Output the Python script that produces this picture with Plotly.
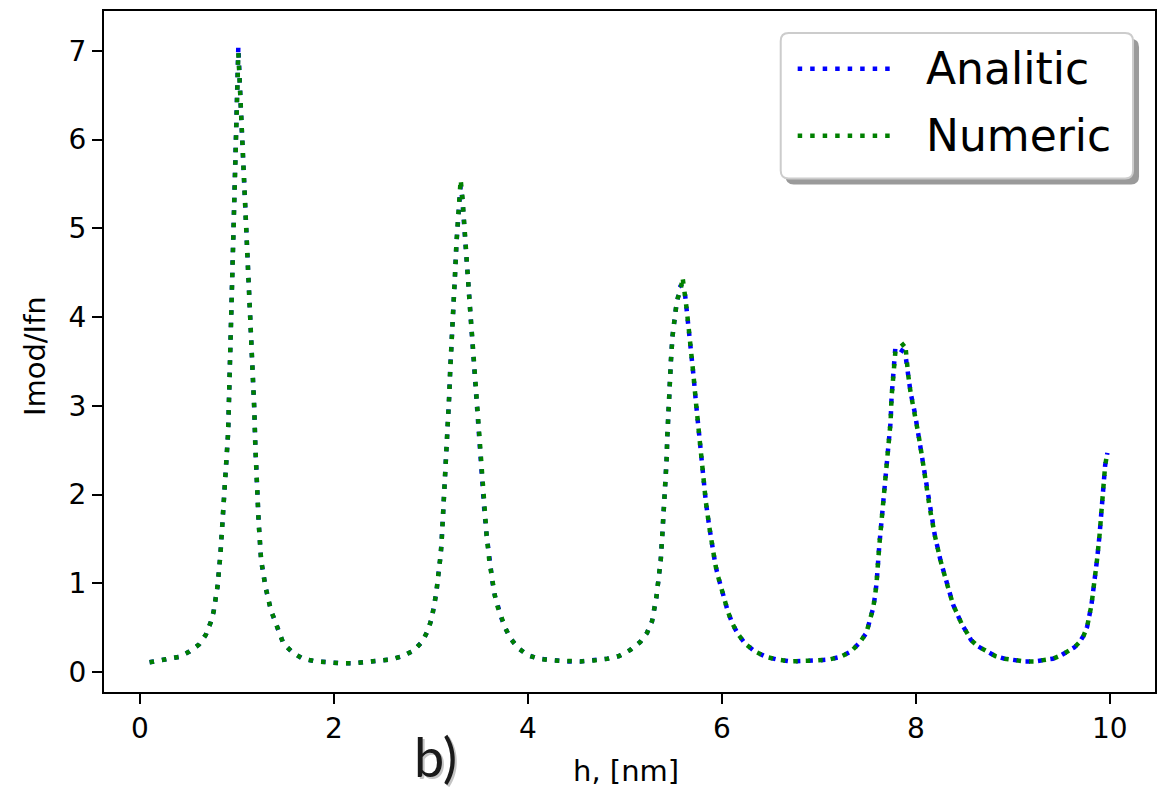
import plotly.graph_objects as go

# ---- data ----
h = [
    # peak 1
    0.10, 0.28, 0.40, 0.51, 0.61, 0.68, 0.73, 0.76, 0.80, 0.83,
    0.86, 0.89, 0.91, 0.93, 0.95, 0.97, 0.99, 1.015, 1.04, 1.06,
    1.08, 1.10, 1.12, 1.135, 1.15, 1.165, 1.18, 1.19, 1.205, 1.225,
    1.25, 1.295, 1.35, 1.40, 1.48, 1.575, 1.68, 1.815, 1.93, 2.07, 2.20,
    # peak 2
    2.33, 2.46, 2.58, 2.71, 2.82, 2.91, 2.97, 3.01, 3.036, 3.056,
    3.07, 3.09, 3.10, 3.11, 3.125, 3.14, 3.153, 3.163, 3.177, 3.19,
    3.20, 3.215, 3.228, 3.242, 3.252, 3.263, 3.277, 3.29, 3.307, 3.325,
    3.34, 3.356, 3.372, 3.389, 3.405, 3.427, 3.444, 3.462, 3.478, 3.496,
    3.509, 3.53, 3.55, 3.575, 3.602, 3.637, 3.66, 3.69, 3.73, 3.77,
    3.82, 3.90, 4.00, 4.11, 4.25, 4.39, 4.54,
    # peak 3
    4.68, 4.82, 4.94, 5.057, 5.16, 5.228, 5.28, 5.307, 5.325, 5.34,
    5.37, 5.386, 5.403, 5.417, 5.43, 5.438, 5.448, 5.462, 5.475, 5.492,
    5.506, 5.527, 5.547, 5.575, 5.595, 5.616, 5.63, 5.657, 5.688, 5.709,
    5.732, 5.757, 5.78, 5.808, 5.835, 5.87, 5.907, 5.935, 5.963, 5.99,
    6.02, 6.06, 6.107, 6.165, 6.24, 6.344, 6.46, 6.576, 6.71, 6.84, 6.97,
    # peak 4 and tail
    7.10, 7.22, 7.33, 7.42, 7.49, 7.527, 7.56, 7.58, 7.595, 7.623,
    7.646, 7.667, 7.70, 7.72, 7.74, 7.75, 7.766, 7.776, 7.79, 7.89,
    7.907, 7.92, 7.946, 7.99, 8.027, 8.065, 8.10, 8.145, 8.196, 8.254,
    8.32, 8.384, 8.47, 8.57, 8.64, 8.727, 8.82, 8.916, 9.02, 9.12,
    9.225, 9.33, 9.413, 9.50, 9.57, 9.637, 9.69, 9.73, 9.766, 9.79,
    9.81, 9.825, 9.843, 9.87, 9.894, 9.915, 9.935, 9.952, 9.975,
]

analitic = [
    0.11, 0.14, 0.17, 0.23, 0.31, 0.42, 0.56, 0.68, 0.96, 1.32,
    1.78, 2.22, 2.70, 3.55, 4.40, 5.20, 6.05, 7.05, 6.38, 5.90,
    5.48, 5.05, 4.62, 4.21, 3.79, 3.37, 2.95, 2.55, 2.10, 1.68,
    1.26, 0.96, 0.70, 0.55, 0.32, 0.22, 0.15, 0.12, 0.11, 0.10, 0.10,
    0.11, 0.12, 0.14, 0.18, 0.24, 0.34, 0.47, 0.61, 0.75, 0.89,
    1.03, 1.17, 1.31, 1.45, 1.73, 2.01, 2.29, 2.57, 2.85, 3.13,
    3.42, 3.70, 3.98, 4.26, 4.54, 4.82, 5.10, 5.36, 5.48, 5.32,
    5.08, 4.84, 4.60, 4.34, 4.08, 3.76, 3.50, 3.22, 2.96, 2.68,
    2.45, 2.12, 1.84, 1.54, 1.26, 1.00, 0.86, 0.73, 0.60, 0.49,
    0.38, 0.27, 0.19, 0.15, 0.13, 0.12, 0.12,
    0.13, 0.15, 0.18, 0.25, 0.34, 0.44, 0.57, 0.70, 0.84, 0.98,
    1.26, 1.54, 1.82, 2.10, 2.38, 2.66, 2.94, 3.22, 3.51, 3.79,
    3.95, 4.10, 4.22, 4.36, 4.33, 4.30, 4.16, 3.89, 3.61, 3.33,
    3.05, 2.76, 2.48, 2.20, 1.92, 1.64, 1.36, 1.20, 1.07, 0.95,
    0.82, 0.69, 0.55, 0.43, 0.32, 0.23, 0.17, 0.14, 0.12, 0.12, 0.13,
    0.14, 0.17, 0.23, 0.33, 0.44, 0.58, 0.72, 0.86, 1.00, 1.42,
    1.70, 1.98, 2.26, 2.54, 2.82, 3.10, 3.38, 3.52, 3.67, 3.60,
    3.47, 3.36, 3.15, 2.92, 2.68, 2.42, 2.14, 1.84, 1.54, 1.26,
    1.00, 0.76, 0.55, 0.36, 0.29, 0.23, 0.18, 0.15, 0.13, 0.12,
    0.12, 0.13, 0.15, 0.19, 0.23, 0.28, 0.34, 0.41, 0.51, 0.62,
    0.75, 0.88, 1.02, 1.28, 1.54, 1.80, 2.06, 2.33, 2.47,
]

numeric = [
    0.11, 0.14, 0.17, 0.23, 0.31, 0.42, 0.56, 0.68, 0.96, 1.32,
    1.78, 2.22, 2.70, 3.55, 4.40, 5.20, 6.05, 6.98, 6.38, 5.90,
    5.48, 5.05, 4.62, 4.21, 3.79, 3.37, 2.95, 2.55, 2.10, 1.68,
    1.26, 0.96, 0.70, 0.55, 0.32, 0.22, 0.15, 0.12, 0.11, 0.10, 0.10,
    0.11, 0.12, 0.14, 0.18, 0.24, 0.34, 0.47, 0.61, 0.75, 0.89,
    1.03, 1.17, 1.31, 1.45, 1.73, 2.01, 2.29, 2.57, 2.85, 3.13,
    3.42, 3.70, 3.98, 4.26, 4.54, 4.82, 5.10, 5.38, 5.55, 5.36,
    5.08, 4.84, 4.60, 4.34, 4.08, 3.76, 3.50, 3.22, 2.96, 2.68,
    2.45, 2.12, 1.84, 1.54, 1.26, 1.00, 0.86, 0.73, 0.60, 0.49,
    0.38, 0.27, 0.19, 0.15, 0.13, 0.12, 0.12,
    0.13, 0.15, 0.18, 0.25, 0.34, 0.44, 0.57, 0.70, 0.84, 0.98,
    1.26, 1.54, 1.82, 2.10, 2.38, 2.66, 2.94, 3.22, 3.51, 3.79,
    3.95, 4.10, 4.22, 4.30, 4.45, 4.30, 4.16, 3.89, 3.61, 3.33,
    3.05, 2.76, 2.48, 2.20, 1.92, 1.64, 1.36, 1.20, 1.07, 0.95,
    0.82, 0.69, 0.55, 0.43, 0.32, 0.23, 0.17, 0.14, 0.12, 0.12, 0.13,
    0.14, 0.17, 0.23, 0.33, 0.44, 0.58, 0.72, 0.86, 1.00, 1.42,
    1.70, 1.98, 2.26, 2.54, 2.82, 3.10, 3.38, 3.52, 3.62, 3.71,
    3.47, 3.36, 3.15, 2.92, 2.68, 2.42, 2.14, 1.84, 1.54, 1.26,
    1.00, 0.76, 0.55, 0.36, 0.29, 0.23, 0.18, 0.15, 0.13, 0.12,
    0.12, 0.13, 0.15, 0.19, 0.23, 0.28, 0.34, 0.41, 0.51, 0.62,
    0.75, 0.88, 1.02, 1.28, 1.54, 1.80, 2.06, 2.33, 2.47,
]

series_names = ["Analitic", "Numeric"]
series_colors = ["#0000ff", "#008000"]
x_ticks = [0, 2, 4, 6, 8, 10]
y_ticks = [0, 1, 2, 3, 4, 5, 6, 7]

assert len(h) == len(analitic) == len(numeric)

W, H = 1166, 795
ML, MR, MT, MB = 104, 9, 9, 103
PW, PH = W - ML - MR, H - MT - MB

def fx(px):
    return (px - ML) / PW

def fy(py):
    return (H - MB - py) / PH

DASH = "4.5px,8px"

fig = go.Figure()
for name, ys, col in zip(series_names, [analitic, numeric], series_colors):
    fig.add_trace(go.Scatter(x=h, y=ys, mode="lines", name=name,
                             line=dict(color=col, width=4.5, dash=DASH),
                             showlegend=False, hoverinfo="x+y"))

shapes = []
annotations = []

def rrect(x0, y0, x1, y1, r):
    X0, X1 = fx(x0), fx(x1)
    Y0, Y1 = fy(y0), fy(y1)
    rx, ry = r / PW, r / PH
    return (f"M {X0+rx},{Y0} L {X1-rx},{Y0} Q {X1},{Y0} {X1},{Y0-ry} "
            f"L {X1},{Y1+ry} Q {X1},{Y1} {X1-rx},{Y1} L {X0+rx},{Y1} "
            f"Q {X0},{Y1} {X0},{Y1+ry} L {X0},{Y0-ry} Q {X0},{Y0} {X0+rx},{Y0} Z")

# legend shadow and box
shapes.append(dict(type="path", xref="paper", yref="paper",
                   path=rrect(787, 37, 1141, 183, 8),
                   fillcolor="#9a9a9a", line=dict(width=0), layer="above"))
shapes.append(dict(type="path", xref="paper", yref="paper",
                   path=rrect(782, 31, 1135, 177, 8),
                   fillcolor="white", line=dict(color="#cccccc", width=2), layer="above"))

leg_rows = [67, 134]
for name, col, yy in zip(series_names, series_colors, leg_rows):
    shapes.append(dict(type="line", xref="paper", yref="paper",
                       x0=fx(799), x1=fx(892), y0=fy(yy), y1=fy(yy),
                       line=dict(color=col, width=4.5, dash=DASH), layer="above"))
    annotations.append(dict(text=name, xref="paper", yref="paper",
                            x=fx(926), y=fy(yy), xanchor="left", yanchor="middle",
                            showarrow=False,
                            font=dict(family="DejaVu Sans", size=44, color="black")))

# axis titles
annotations.append(dict(text="h, [nm]", xref="paper", yref="paper",
                        x=fx(627), y=fy(771), xanchor="center", yanchor="middle",
                        showarrow=False,
                        font=dict(family="DejaVu Sans", size=29, color="black")))
annotations.append(dict(text="Imod/Ifn", xref="paper", yref="paper",
                        x=fx(35), y=fy(355), xanchor="center", yanchor="middle",
                        textangle=-90, showarrow=False,
                        font=dict(family="DejaVu Sans", size=29, color="black")))
# panel label with soft shadow
annotations.append(dict(text="b)", xref="paper", yref="paper",
                        x=fx(438), y=fy(759), xanchor="center", yanchor="middle",
                        showarrow=False,
                        font=dict(family="Lato", size=54, color="#c4c4c4")))
annotations.append(dict(text="b)", xref="paper", yref="paper",
                        x=fx(436), y=fy(757), xanchor="center", yanchor="middle",
                        showarrow=False,
                        font=dict(family="Lato", size=54, color="#1a1a1a")))

fig.update_layout(
    width=W, height=H,
    margin=dict(l=ML, r=MR, t=MT, b=MB, pad=0),
    paper_bgcolor="white", plot_bgcolor="white",
    shapes=shapes, annotations=annotations,
    font=dict(family="DejaVu Sans", size=28, color="black"),
)
fig.update_xaxes(range=[-0.37, 10.466], tickvals=x_ticks, ticks="outside",
                 ticklen=10, tickwidth=2, tickcolor="black",
                 showline=True, linecolor="black", linewidth=2, mirror=True,
                 showgrid=False, zeroline=False,
                 tickfont=dict(family="DejaVu Sans", size=28, color="black"))
fig.update_yaxes(range=[-0.225, 7.45], tickvals=y_ticks, ticks="outside",
                 ticklen=10, tickwidth=2, tickcolor="black",
                 showline=True, linecolor="black", linewidth=2, mirror=True,
                 showgrid=False, zeroline=False,
                 tickfont=dict(family="DejaVu Sans", size=28, color="black"))

fig.write_html("out.html")
